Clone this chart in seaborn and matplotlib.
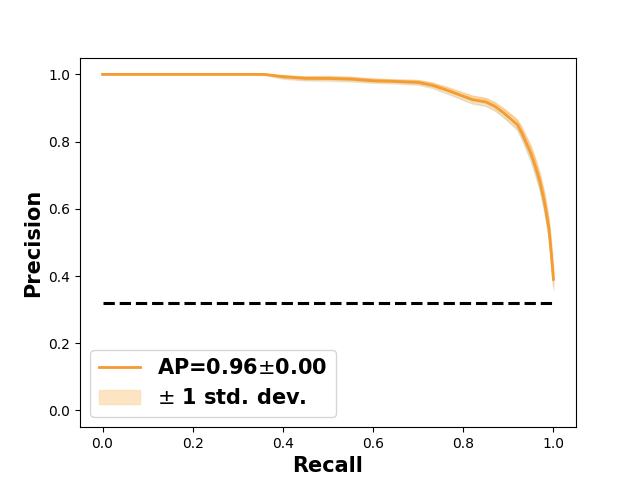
import numpy as np
import pandas as pd
import matplotlib
matplotlib.use("Agg")
import matplotlib.pyplot as plt
import seaborn as sns

# Recall grid and mean precision
recall = [0.0, 0.1, 0.2, 0.3, 0.36, 0.40, 0.45, 0.50, 0.55, 0.60, 0.65, 0.70,
          0.73, 0.76, 0.79, 0.82, 0.85, 0.87, 0.89, 0.91, 0.92, 0.93, 0.94,
          0.95, 0.96, 0.97, 0.98, 0.99, 0.995, 1.0]
mean_prec = [1.0, 1.0, 1.0, 1.0, 1.0, 0.993, 0.988, 0.988, 0.986, 0.981, 0.979, 0.976,
             0.968, 0.955, 0.940, 0.925, 0.918, 0.905, 0.885, 0.862, 0.850, 0.825, 0.795,
             0.765, 0.725, 0.680, 0.620, 0.540, 0.470, 0.390]
std_prec = [0.0, 0.0, 0.0, 0.0, 0.002, 0.006, 0.006, 0.007, 0.007, 0.006, 0.006, 0.007,
            0.008, 0.010, 0.011, 0.012, 0.012, 0.013, 0.014, 0.015, 0.016, 0.018, 0.020,
            0.022, 0.024, 0.026, 0.028, 0.030, 0.030, 0.030]

# Individual folds (faint lines)
fold1 = [1.0, 1.0, 1.0, 1.0, 1.0, 0.995, 0.992, 0.990, 0.990, 0.985, 0.982, 0.980,
         0.972, 0.962, 0.948, 0.935, 0.928, 0.915, 0.895, 0.875, 0.862, 0.840, 0.812,
         0.785, 0.745, 0.700, 0.640, 0.560, 0.480, 0.400]
fold2 = [1.0, 1.0, 1.0, 1.0, 0.998, 0.988, 0.982, 0.983, 0.981, 0.976, 0.974, 0.970,
         0.962, 0.946, 0.930, 0.914, 0.906, 0.893, 0.873, 0.848, 0.836, 0.808, 0.775,
         0.742, 0.700, 0.655, 0.595, 0.515, 0.450, 0.375]
fold3 = [1.0, 1.0, 1.0, 1.0, 1.0, 0.996, 0.993, 0.994, 0.991, 0.987, 0.984, 0.982,
         0.975, 0.958, 0.944, 0.930, 0.924, 0.912, 0.894, 0.872, 0.860, 0.838, 0.808,
         0.780, 0.745, 0.700, 0.645, 0.565, 0.500, 0.410]
fold4 = [1.0, 1.0, 1.0, 1.0, 1.0, 0.991, 0.986, 0.985, 0.983, 0.978, 0.976, 0.973,
         0.964, 0.952, 0.936, 0.920, 0.912, 0.898, 0.876, 0.852, 0.840, 0.812, 0.782,
         0.750, 0.708, 0.660, 0.598, 0.520, 0.440, 0.370]
folds = [fold1, fold2, fold3, fold4]
fold_colors = ["#f5a03a", "#9ecae1", "#f5a03a", "#a1d99b"]

chance = 0.32
ap_label = "AP=0.96$\\pm$0.00"

df = pd.DataFrame({"recall": recall, "precision": mean_prec})
lo = np.array(mean_prec) - np.array(std_prec)
hi = np.minimum(np.array(mean_prec) + np.array(std_prec), 1.0)

fig, ax = plt.subplots(figsize=(6.4, 4.8), dpi=100)

for f, c in zip(folds, fold_colors):
    ax.plot(recall, f, color=c, lw=0.8, alpha=0.3)

ax.fill_between(recall, lo, hi, color="#fdd49e", alpha=0.6, label="$\\pm$ 1 std. dev.")
sns.lineplot(data=df, x="recall", y="precision", color="#f59b30", lw=2,
             ax=ax, label=ap_label)
ax.plot([0, 1], [chance, chance], "k--", lw=2.2)

ax.set_xlim(-0.05, 1.05)
ax.set_ylim(-0.05, 1.05)
ax.set_xlabel("Recall", fontsize=15, fontweight="bold")
ax.set_ylabel("Precision", fontsize=15, fontweight="bold")

handles, labels = ax.get_legend_handles_labels()
order = [labels.index(ap_label), labels.index("$\\pm$ 1 std. dev.")]
ax.legend([handles[i] for i in order], [labels[i] for i in order],
          loc="lower left", prop={"size": 15, "weight": "bold"})

fig.savefig("out.png")
